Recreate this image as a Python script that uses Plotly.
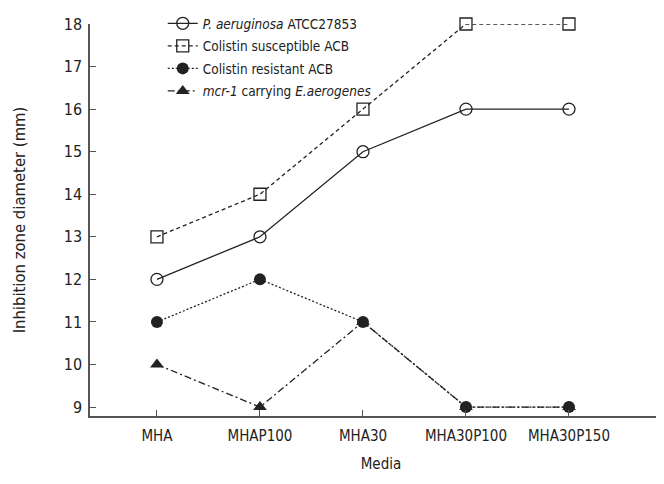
import plotly.graph_objects as go

media = ["MHA", "MHAP100", "MHA30", "MHA30P100", "MHA30P150"]
pa = [12, 13, 15, 16, 16]
cs_acb = [13, 14, 16, 18, 18]
cr_acb = [11, 12, 11, 9, 9]
mcr1 = [10, 9, 11, 9, 9]
yticks = list(range(9, 19))

FONT = "DejaVu Sans Condensed, Roboto, sans-serif"
LC = "#222222"

fig = go.Figure()
fig.add_trace(go.Scatter(x=media, y=pa, mode="lines+markers",
    name="<i>P. aeruginosa</i> ATCC27853", legendgroup="a",
    line=dict(color=LC, width=1.3, dash="solid"),
    marker=dict(symbol="circle-open", size=12, color=LC, line=dict(width=1.3)),
    cliponaxis=False))
fig.add_trace(go.Scatter(x=media, y=cs_acb, mode="lines+markers",
    name="Colistin susceptible ACB", legendgroup="b",
    line=dict(color=LC, width=1.3, dash="4px,3px"),
    marker=dict(symbol="square-open", size=12, color=LC, line=dict(width=1.3)),
    cliponaxis=False))
fig.add_trace(go.Scatter(x=media, y=cr_acb, mode="lines+markers",
    name="Colistin resistant ACB", legendgroup="c",
    line=dict(color=LC, width=1.3, dash="2px,2px"),
    marker=dict(symbol="circle", size=12, color=LC),
    cliponaxis=False))
fig.add_trace(go.Scatter(x=media, y=mcr1, mode="lines+markers",
    name="<i>mcr-1</i> carrying <i>E.aerogenes</i>", legendgroup="d",
    line=dict(color=LC, width=1.3, dash="7px,3px,2px,3px"),
    marker=dict(symbol="triangle-up", size=12, color=LC),
    cliponaxis=False))

fig.update_layout(
    width=664, height=484,
    margin=dict(l=82, r=0, t=16, b=76),
    paper_bgcolor="white", plot_bgcolor="white",
    font=dict(family=FONT, size=15, color="#222"),
    showlegend=True,
    legend=dict(x=0.125, y=1.042, xanchor="left", yanchor="top",
                bgcolor="rgba(0,0,0,0)", font=dict(size=13.5),
                traceorder="grouped", tracegroupgap=2),
    xaxis=dict(type="category", range=[-0.65, 5.0], showgrid=False,
               showline=True, linecolor="#555", linewidth=1.5,
               ticks="inside", ticklen=6, tickcolor="#555",
               ticklabelstandoff=5,
               title=dict(text="Media", font=dict(size=15), standoff=15),
               tickfont=dict(size=15), zeroline=False),
    yaxis=dict(range=[8.79, 18.0], tickvals=yticks, showgrid=False,
               showline=True, linecolor="#555", linewidth=1.5,
               ticks="inside", ticklen=6, tickcolor="#555",
               ticklabelstandoff=3,
               title=dict(text="Inhibition zone diameter (mm)", font=dict(size=16.5), standoff=34),
               tickfont=dict(size=16), zeroline=False),
)

fig.write_html("out.html")
